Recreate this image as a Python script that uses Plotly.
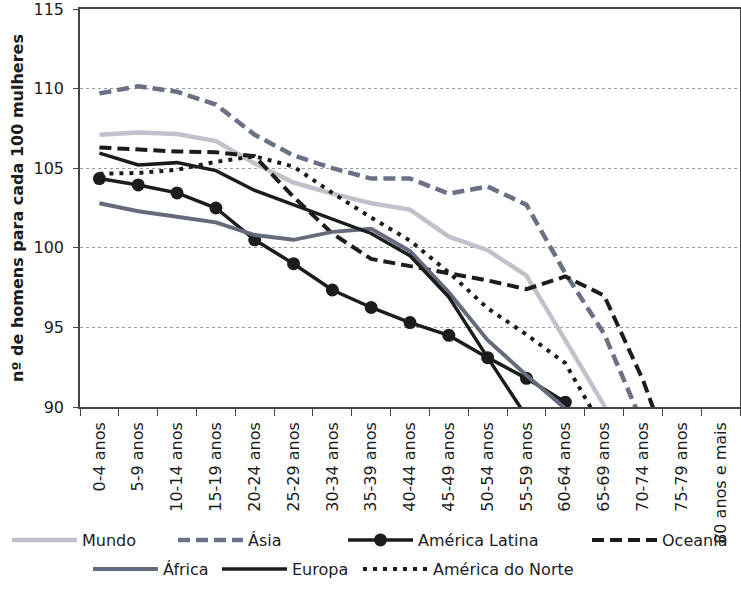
import plotly.graph_objects as go

categories = ["0-4 anos", "5-9 anos", "10-14 anos", "15-19 anos", "20-24 anos",
              "25-29 anos", "30-34 anos", "35-39 anos", "40-44 anos", "45-49 anos",
              "50-54 anos", "55-59 anos", "60-64 anos", "65-69 anos", "70-74 anos",
              "75-79 anos", "80 anos e mais"]

mundo = [107.1, 107.25, 107.15, 106.7, 105.3, 104.1, 103.4, 102.8, 102.4, 100.7,
         99.85, 98.25, 94.2, 90.1, 84.0, None, None]
asia = [109.7, 110.15, 109.8, 109.0, 107.1, 105.8, 105.0, 104.35, 104.35, 103.4,
        103.85, 102.7, 98.4, 94.6, 88.9, None, None]
america_latina = [104.35, 103.95, 103.45, 102.5, 100.5, 99.0, 97.35, 96.25, 95.3, 94.5,
                  93.1, 91.8, 90.3, 85.0, None, None, None]
oceania = [106.3, 106.15, 106.05, 106.0, 105.75, 103.2, 100.9, 99.3, 98.85, 98.4,
           97.95, 97.4, 98.2, 97.0, 91.7, 85.0, None]
africa = [102.8, 102.3, 101.95, 101.6, 100.8, 100.5, 101.0, 101.2, 99.8, 97.2,
          94.2, 92.0, 89.9, 85.0, None, None, None]
europa = [105.95, 105.2, 105.35, 104.85, 103.6, 102.7, 101.75, 100.9, 99.5, 96.9,
          93.1, 89.4, None, None, None, None, None]
america_norte = [104.65, 104.7, 104.9, 105.4, 105.75, 105.1, 103.45, 101.9, 100.45, 98.45,
                 96.2, 94.55, 92.75, 88.5, None, None, None]

FONT = "DejaVu Sans"
BLACK = "#1c1c1c"

series = [
    ("Mundo", mundo, dict(color="#c0c1ca", width=4.5), None, "legend"),
    ("Ásia", asia, dict(color="#6a7185", width=4.5, dash="12px,6px"), None, "legend2"),
    ("América Latina", america_latina, dict(color=BLACK, width=3.5), dict(size=13, color=BLACK), "legend3"),
    ("Oceania", oceania, dict(color=BLACK, width=4, dash="12px,6px"), None, "legend4"),
    ("África", africa, dict(color="#656b7c", width=4), None, "legend5"),
    ("Europa", europa, dict(color=BLACK, width=3.5), None, "legend6"),
    ("América do Norte", america_norte, dict(color=BLACK, width=4, dash="4px,6px"), None, "legend7"),
]

fig = go.Figure()
for name, vals, line, marker, lg in series:
    fig.add_trace(go.Scatter(
        x=categories, y=vals, name=name, mode="lines+markers" if marker else "lines",
        line=line, marker=marker, legend=lg, connectgaps=False, cliponaxis=True,
    ))

W, H = 741, 606
leg_pos = {
    "legend": (7, 540), "legend2": (173, 540), "legend3": (343, 540), "legend4": (587, 540),
    "legend5": (88, 569), "legend6": (217, 569), "legend7": (358, 569),
}
layout_legends = {}
for key, (px, py) in leg_pos.items():
    layout_legends[key] = dict(
        x=px / W, y=1 - py / H, xref="container", yref="container",
        xanchor="left", yanchor="middle", orientation="h",
        bgcolor="rgba(0,0,0,0)", borderwidth=0, itemwidth=65,
        font=dict(family=FONT, size=16, color=BLACK),
    )

fig.update_layout(
    width=W, height=H,
    margin=dict(l=80, r=1, t=9, b=199, autoexpand=False),
    paper_bgcolor="white", plot_bgcolor="white",
    font=dict(family=FONT, size=16, color=BLACK),
    showlegend=True,
    **layout_legends,
)
fig.update_xaxes(
    type="category", range=[-0.5, 16.5], tickangle=-90, automargin=False,
    tickson="boundaries", ticks="outside", ticklen=7, tickcolor="#444",
    ticklabelstandoff=7,
    showline=True, linecolor="#444", linewidth=1.5, mirror=True,
    showgrid=False, tickfont=dict(family=FONT, size=16, color=BLACK),
)
fig.update_yaxes(
    range=[90, 115], dtick=5, tick0=90, automargin=False,
    ticks="outside", ticklen=5, tickcolor="#444", ticklabelstandoff=6,
    ticklabeloverflow="allow",
    showline=True, linecolor="#444", linewidth=1.5, mirror=True,
    showgrid=True, gridcolor="#9a9a9a", gridwidth=1, griddash="dot",
    zeroline=False, tickfont=dict(family=FONT, size=16, color=BLACK),
    title=dict(text="<b>nº de homens para cada 100 mulheres</b>",
               font=dict(family=FONT, size=16, color=BLACK), standoff=6),
)

# remove the default page margin so the 741x606 figure fills the window exactly
fig.write_html("out.html", config={"displayModeBar": False},
               post_script="document.body.style.margin='0';document.body.style.overflow='hidden';")
